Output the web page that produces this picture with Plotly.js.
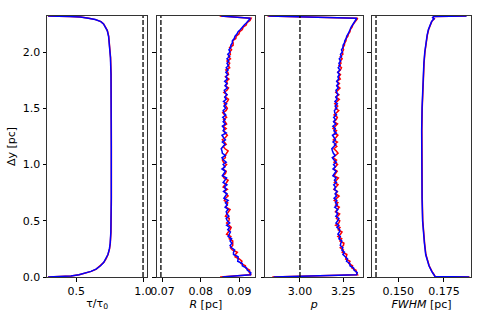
<!DOCTYPE html>
<html><head><meta charset="utf-8">
<script src="https://cdn.plot.ly/plotly-3.0.1.min.js"></script>
<style>html,body{margin:0;padding:0;background:#fff}#plot{width:491px;height:327px}</style>
</head><body><div id="plot"></div>
<script>
// ---- data ----
const yTau = [0, 0.005, 0.01, 0.02, 0.035, 0.05, 0.07, 0.1, 0.13, 0.16, 0.2, 0.25, 0.3, 0.4, 0.5, 0.7, 1.16, 1.62, 1.8, 1.95, 2.06, 2.14, 2.19, 2.23, 2.25, 2.27, 2.288, 2.30, 2.31, 2.315, 2.32];
const tauRed  = [0.288, 0.400, 0.462, 0.522, 0.577, 0.612, 0.650, 0.683, 0.707, 0.723, 0.738, 0.749, 0.755, 0.760, 0.762, 0.763, 0.763, 0.763, 0.761, 0.757, 0.751, 0.743, 0.733, 0.717, 0.705, 0.685, 0.645, 0.595, 0.535, 0.455, 0.288];
const tauBlue = [0.290, 0.398, 0.460, 0.520, 0.575, 0.610, 0.648, 0.682, 0.706, 0.722, 0.737, 0.748, 0.754, 0.759, 0.761, 0.762, 0.762, 0.762, 0.760, 0.756, 0.750, 0.742, 0.732, 0.716, 0.704, 0.684, 0.642, 0.590, 0.530, 0.450, 0.290];

const yGrid = [0.00,0.02,0.04,0.06,0.08,0.10,0.12,0.14,0.16,0.18,
  0.20,0.22,0.24,0.26,0.28,0.30,0.32,0.34,0.36,0.38,
  0.40,0.42,0.44,0.46,0.48,0.50,0.52,0.54,0.56,0.58,
  0.60,0.62,0.64,0.66,0.68,0.70,0.72,0.74,0.76,0.78,
  0.80,0.82,0.84,0.86,0.88,0.90,0.92,0.94,0.96,0.98,
  1.00,1.02,1.04,1.06,1.08,1.10,1.12,1.14,1.16,1.18,
  1.20,1.22,1.24,1.26,1.28,1.30,1.32,1.34,1.36,1.38,
  1.40,1.42,1.44,1.46,1.48,1.50,1.52,1.54,1.56,1.58,
  1.60,1.62,1.64,1.66,1.68,1.70,1.72,1.74,1.76,1.78,
  1.80,1.82,1.84,1.86,1.88,1.90,1.92,1.94,1.96,1.98,
  2.00,2.02,2.04,2.06,2.08,2.10,2.12,2.14,2.16,2.18,
  2.20,2.22,2.24,2.26,2.28,2.30,2.32];

const rRed = [0.0850,0.0931,0.0926,0.0927,0.0917,0.0916,0.0904,0.0907,0.0900,0.0889,
  0.0890,0.0895,0.0882,0.0877,0.0883,0.0884,0.0883,0.0874,0.0878,0.0867,
  0.0872,0.0876,0.0879,0.0872,0.0867,0.0873,0.0874,0.0864,0.0868,0.0874,
  0.0876,0.0865,0.0867,0.0870,0.0861,0.0864,0.0871,0.0867,0.0861,0.0869,
  0.0858,0.0863,0.0866,0.0871,0.0860,0.0857,0.0864,0.0866,0.0858,0.0861,
  0.0867,0.0859,0.0856,0.0864,0.0863,0.0867,0.0871,0.0863,0.0858,0.0866,
  0.0861,0.0856,0.0864,0.0869,0.0863,0.0859,0.0866,0.0858,0.0867,0.0864,
  0.0859,0.0867,0.0862,0.0857,0.0866,0.0869,0.0865,0.0861,0.0869,0.0872,
  0.0863,0.0868,0.0860,0.0868,0.0872,0.0864,0.0869,0.0867,0.0873,0.0864,
  0.0872,0.0870,0.0865,0.0875,0.0871,0.0875,0.0868,0.0877,0.0872,0.0877,
  0.0875,0.0880,0.0875,0.0884,0.0884,0.0883,0.0891,0.0892,0.0899,0.0901,
  0.0908,0.0910,0.0918,0.0920,0.0928,0.0931,0.0849];
const rBlue = [0.0856,0.0929,0.0930,0.0921,0.0919,0.0908,0.0908,0.0896,0.0897,0.0897,
  0.0885,0.0885,0.0888,0.0880,0.0876,0.0881,0.0876,0.0880,0.0871,0.0875,
  0.0877,0.0870,0.0875,0.0867,0.0875,0.0869,0.0866,0.0873,0.0868,0.0866,
  0.0871,0.0863,0.0869,0.0864,0.0871,0.0860,0.0863,0.0868,0.0859,0.0866,
  0.0861,0.0868,0.0858,0.0863,0.0867,0.0856,0.0860,0.0864,0.0855,0.0863,
  0.0858,0.0866,0.0859,0.0855,0.0864,0.0856,0.0855,0.0853,0.0858,0.0863,
  0.0856,0.0864,0.0859,0.0855,0.0866,0.0858,0.0861,0.0856,0.0864,0.0858,
  0.0863,0.0857,0.0865,0.0860,0.0858,0.0865,0.0860,0.0867,0.0859,0.0866,
  0.0862,0.0868,0.0863,0.0861,0.0869,0.0863,0.0868,0.0862,0.0869,0.0865,
  0.0870,0.0865,0.0871,0.0866,0.0872,0.0868,0.0873,0.0868,0.0875,0.0870,
  0.0876,0.0873,0.0878,0.0878,0.0882,0.0882,0.0887,0.0889,0.0894,0.0897,
  0.0903,0.0907,0.0913,0.0919,0.0925,0.0929,0.0853];

const pRed = [2.840,3.333,3.326,3.324,3.300,3.304,3.282,3.289,3.264,3.268,
  3.271,3.244,3.251,3.233,3.251,3.254,3.231,3.241,3.219,3.234,
  3.243,3.221,3.231,3.206,3.224,3.230,3.211,3.218,3.229,3.205,
  3.219,3.227,3.206,3.219,3.198,3.212,3.226,3.206,3.216,3.196,
  3.211,3.220,3.199,3.213,3.222,3.196,3.206,3.215,3.194,3.208,
  3.217,3.197,3.211,3.190,3.207,3.220,3.210,3.196,3.213,3.200,
  3.216,3.193,3.208,3.219,3.199,3.211,3.191,3.207,3.217,3.196,
  3.210,3.216,3.197,3.211,3.224,3.205,3.218,3.201,3.217,3.227,
  3.208,3.225,3.207,3.221,3.231,3.215,3.228,3.214,3.233,3.224,
  3.234,3.219,3.233,3.240,3.225,3.237,3.233,3.244,3.233,3.248,
  3.245,3.252,3.248,3.257,3.258,3.266,3.267,3.277,3.280,3.289,
  3.291,3.301,3.305,3.314,3.322,3.334,2.812];
const pBlue = [2.848,3.327,3.331,3.313,3.310,3.289,3.288,3.269,3.275,3.260,
  3.248,3.257,3.242,3.248,3.233,3.236,3.242,3.225,3.233,3.219,
  3.228,3.230,3.214,3.225,3.208,3.218,3.225,3.207,3.218,3.209,
  3.219,3.201,3.216,3.205,3.213,3.197,3.211,3.203,3.215,3.198,
  3.206,3.195,3.211,3.199,3.209,3.190,3.201,3.209,3.191,3.205,
  3.194,3.210,3.197,3.187,3.204,3.193,3.188,3.184,3.196,3.207,
  3.191,3.205,3.197,3.188,3.210,3.196,3.204,3.190,3.207,3.194,
  3.205,3.195,3.211,3.201,3.199,3.213,3.203,3.216,3.202,3.215,
  3.207,3.220,3.212,3.208,3.222,3.212,3.222,3.212,3.224,3.219,
  3.228,3.218,3.231,3.221,3.232,3.225,3.235,3.227,3.240,3.234,
  3.245,3.240,3.249,3.249,3.257,3.259,3.267,3.270,3.278,3.282,
  3.290,3.295,3.303,3.311,3.319,3.328,2.818];

const yFwhm = [0, 0.005, 0.02, 0.05, 0.1, 0.15, 0.2, 0.3, 0.4, 0.5, 0.7, 0.9, 1.1, 1.3, 1.5, 1.7, 1.9, 2.0, 2.1, 2.15, 2.2, 2.25, 2.27, 2.285, 2.295, 2.305, 2.315, 2.32];
const fwhmRed  = [0.1890, 0.1702, 0.1696, 0.1684, 0.1669, 0.1659, 0.1651, 0.1644, 0.1638, 0.1634, 0.1631, 0.1629, 0.1628, 0.1629, 0.1631, 0.1635, 0.1641, 0.1646, 0.1653, 0.1659, 0.1666, 0.1676, 0.1683, 0.1690, 0.1697, 0.1689, 0.1694, 0.1872];
const fwhmBlue = [0.1888, 0.1700, 0.1695, 0.1683, 0.1668, 0.1658, 0.1650, 0.1643, 0.1637, 0.1633, 0.1630, 0.1628, 0.1627, 0.1628, 0.1630, 0.1634, 0.1640, 0.1645, 0.1652, 0.1658, 0.1665, 0.1675, 0.1682, 0.1689, 0.1696, 0.1688, 0.1693, 0.1874];

const refValues = [1.0, 0.0696, 3.0, 0.1378];
const xTitles = ['τ/τ<sub>0</sub>', '<i>R</i> [pc]', '<i>p</i>', '<i>FWHM</i> [pc]'];
const xTickVals = [[0.5, 1.0], [0.07, 0.08, 0.09], [3.00, 3.25], [0.150, 0.175]];
const xTickText = [['0.5', '1.0'], ['0.07', '0.08', '0.09'], ['3.00', '3.25'], ['0.150', '0.175']];
const xRanges = [[0.281, 1.032], [0.0685, 0.0941], [2.798, 3.366], [0.1356, 0.1898]];
const yTickVals = [0, 0.5, 1.0, 1.5, 2.0];
const yTickText = ['0.0', '0.5', '1.0', '1.5', '2.0'];
const yRange = [0, 2.32];

// ---- figure ----
const series = [
  [yTau, tauRed, tauBlue],
  [yGrid, rRed, rBlue],
  [yGrid, pRed, pBlue],
  [yFwhm, fwhmRed, fwhmBlue]
];
const domains = [[0, 0.2366], [0.2587, 0.4906], [0.5142, 0.7460], [0.7665, 1.0]];
const font = {family: 'DejaVu Sans, sans-serif', size: 11, color: '#000'};
const traces = [];
const layout = {
  width: 491, height: 327,
  margin: {l: 47, r: 20, t: 16, b: 50},
  paper_bgcolor: '#fff', plot_bgcolor: '#fff',
  showlegend: false, font: font, shapes: []
};
series.forEach((s, k) => {
  const xa = k === 0 ? 'x' : 'x' + (k + 1);
  const ya = k === 0 ? 'y' : 'y' + (k + 1);
  traces.push({x: s[1], y: s[0], xaxis: xa, yaxis: ya, mode: 'lines', line: {color: '#ff0000', width: 1.5}, hoverinfo: 'skip'});
  traces.push({x: s[2], y: s[0], xaxis: xa, yaxis: ya, mode: 'lines', line: {color: '#0000ff', width: 1.5}, hoverinfo: 'skip'});
  const xName = k === 0 ? 'xaxis' : 'xaxis' + (k + 1);
  const yName = k === 0 ? 'yaxis' : 'yaxis' + (k + 1);
  layout[xName] = {
    domain: domains[k], anchor: ya, range: xRanges[k],
    tickmode: 'array', tickvals: xTickVals[k], ticktext: xTickText[k],
    ticks: 'outside', ticklen: 3.5, tickwidth: 1, tickcolor: '#000',
    showline: true, linecolor: '#333', linewidth: 1, mirror: true,
    showgrid: false, zeroline: false, tickfont: font,
    title: {text: xTitles[k], font: font, standoff: 2}
  };
  layout[yName] = {
    anchor: xa, range: yRange, domain: [0, 1],
    tickmode: 'array', tickvals: yTickVals, ticktext: yTickText,
    ticks: 'outside', ticklen: 3.5, tickwidth: 1, tickcolor: '#000',
    showline: true, linecolor: '#333', linewidth: 1, mirror: true,
    showgrid: false, zeroline: false, tickfont: font,
    showticklabels: k === 0
  };
  if (k === 0) layout[yName].title = {text: 'Δy [pc]', font: font, standoff: 4};
  else layout[yName].matches = 'y';
  layout.shapes.push({type: 'line', xref: xa, yref: 'paper', x0: refValues[k], x1: refValues[k], y0: 0, y1: 1,
    line: {color: '#000', width: 1.3, dash: '5px,2px'}});
});
Plotly.newPlot('plot', traces, layout, {staticPlot: true, displayModeBar: false});
</script>
</body></html>
